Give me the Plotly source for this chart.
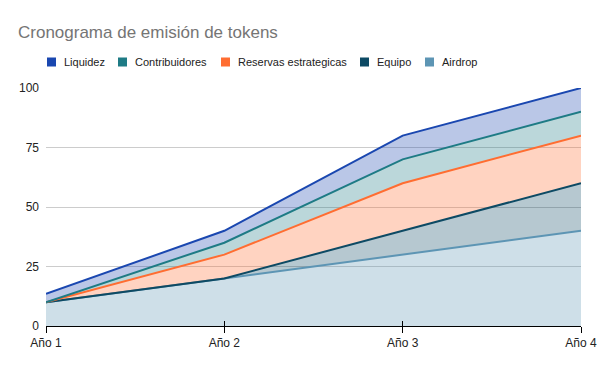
import plotly.graph_objects as go

years = ["Año 1", "Año 2", "Año 3", "Año 4"]
airdrop = [10, 20, 30, 40]
equipo = [0, 0, 10, 20]
reservas = [0, 10, 20, 20]
contribuidores = [0, 5, 10, 10]
liquidez = [3.5, 5, 10, 10]

series = [
    ("Airdrop", airdrop, "#5d95b4"),
    ("Equipo", equipo, "#0d4a64"),
    ("Reservas estrategicas", reservas, "#ff6d31"),
    ("Contribuidores", contribuidores, "#1e7b85"),
    ("Liquidez", liquidez, "#1a47b0"),
]
legend_order = ["Liquidez", "Contribuidores", "Reservas estrategicas", "Equipo", "Airdrop"]
legend_x = [47, 118, 221, 360, 425]

W, H = 600, 371

def rgba(h, a):
    h = h.lstrip("#")
    r, g, b = int(h[0:2], 16), int(h[2:4], 16), int(h[4:6], 16)
    return f"rgba({r},{g},{b},{a})"

fig = go.Figure()
xs = list(range(len(years)))
for name, vals, col in series:
    fig.add_trace(go.Scatter(
        x=xs, y=vals, name=name, mode="lines", stackgroup="one",
        line=dict(color=col, width=2), fillcolor=rgba(col, 0.3),
        showlegend=False,
    ))
# invisible trace on an overlaying axis to draw the upper half of the tick marks
fig.add_trace(go.Scatter(x=xs, y=[None] * len(xs), xaxis="x2", showlegend=False,
                         hoverinfo="skip", mode="lines"))

colors = {n: c for n, _, c in series}
shapes = []
annotations = []
for name, px in zip(legend_order, legend_x):
    shapes.append(dict(type="rect", xref="paper", yref="paper",
                       x0=(px - 46) / (W - 65), x1=(px + 9 - 46) / (W - 65),
                       y0=(H - 45 - 66.5) / (H - 133), y1=(H - 45 - 57.5) / (H - 133),
                       fillcolor=colors[name], line=dict(width=0), layer="above"))
    annotations.append(dict(text=name, xref="paper", yref="paper",
                            x=(px + 15 - 46) / (W - 65), y=(H - 45 - 62) / (H - 133),
                            xanchor="left", yanchor="middle", showarrow=False,
                            font=dict(size=11, color="#222222",
                                      family="Liberation Sans, Arial, sans-serif")))

fig.update_layout(
    width=W, height=H,
    margin=dict(l=46, r=19, t=88, b=45, autoexpand=False),
    paper_bgcolor="white", plot_bgcolor="white",
    font=dict(family="Liberation Sans, Arial, sans-serif", size=12, color="#222222"),
    title=dict(text="Cronograma de emisión de tokens", x=18 / W, xanchor="left",
               y=1 - 32 / H, yanchor="middle", yref="container", xref="container",
               font=dict(size=17, color="#757575", family="Liberation Sans, Arial, sans-serif")),
    showlegend=False,
    hovermode=False,
    shapes=shapes,
    annotations=annotations,
    xaxis=dict(tickvals=xs, ticktext=years, range=[0, 3], showgrid=False,
               showline=True, linecolor="black", linewidth=1,
               ticks="outside", ticklen=6, tickcolor="black", zeroline=False,
               automargin=False,
               tickfont=dict(size=12, color="#222222")),
    xaxis2=dict(overlaying="x", anchor="y", side="bottom", tickvals=xs, range=[0, 3],
                showticklabels=False, showgrid=False, showline=False, zeroline=False,
                ticks="inside", ticklen=5, tickcolor="black", automargin=False),
    yaxis=dict(range=[0, 100], tickvals=[0, 25, 50, 75, 100],
               showgrid=True, gridcolor="#cccccc", gridwidth=1, zeroline=False,
               automargin=False,
               tickfont=dict(size=12, color="#222222"), ticklabelstandoff=6),
)
fig.write_html("out.html", config={"displayModeBar": False},
               post_script="document.body.style.margin='0';document.body.style.overflow='hidden';")
